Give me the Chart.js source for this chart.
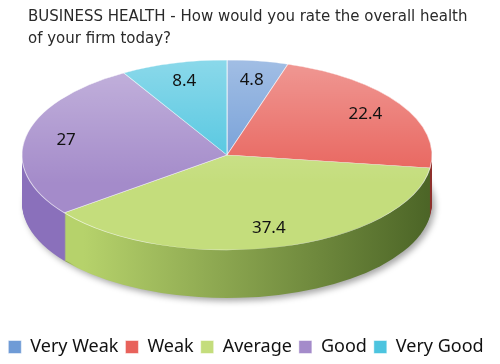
<!DOCTYPE html>
<html>
<head>
<meta charset="utf-8">
<script src="https://cdn.jsdelivr.net/npm/chart.js@4.4.1/dist/chart.umd.min.js"></script>
<style>
  html, body { margin: 0; padding: 0; background: #fff; }
</style>
</head>
<body>
<canvas id="c" width="500" height="364"></canvas>
<script>
// ── data ─────────────────────────────────────────
const categories = ['Very Weak', 'Weak', 'Average', 'Good', 'Very Good'];
const shares = [4.8, 22.4, 37.4, 27, 8.4];
const titleLines = ['BUSINESS HEALTH - How would you rate the overall health', 'of your firm today?'];

// ── look ─────────────────────────────────────────
const topColors = ['#6f9bd6', '#e8625b', '#c4dd7c', '#a48bca', '#4cc4df'];
const sideLeft  = ['#5d86c0', '#cf514a', '#b6d26b', '#8a70bb', '#3aaccb'];
const sideRight = ['#3d5e8e', '#8e302c', '#4b6426', '#6c549e', '#2a7f97'];
const ELL = { cx: 227, cy: 155, rx: 205, ry: 95, depth: 48 };
const LABEL_POS = 0.8;

const pie3d = {
  id: 'pie3d',
  afterLayout(chart) {
    chart.titleBlock.left = 28;
  },
  beforeDatasetsDraw(chart) {
    const ctx = chart.ctx;
    const arcs = chart.getDatasetMeta(0).data;
    const a0 = arcs[0];
    const R = a0.outerRadius;
    const sx = ELL.rx / R, sy = ELL.ry / R;
    const grads = arcs.map((arc, i) => {
      const g = ctx.createLinearGradient(a0.x - R, 0, a0.x + R, 0);
      g.addColorStop(0, sideLeft[i]);
      g.addColorStop(0.15, sideLeft[i]);
      g.addColorStop(1, sideRight[i]);
      return g;
    });
    // side walls, bottom layer first
    for (let d = ELL.depth; d >= 1; d--) {
      ctx.save();
      if (d === ELL.depth) {
        ctx.shadowColor = 'rgba(0,0,0,0.35)';
        ctx.shadowBlur = 6;
        ctx.shadowOffsetX = 3;
        ctx.shadowOffsetY = 3;
      }
      ctx.translate(ELL.cx, ELL.cy + d);
      ctx.scale(sx, sy);
      ctx.translate(-a0.x, -a0.y);
      arcs.forEach((arc, i) => {
        ctx.fillStyle = grads[i];
        ctx.beginPath();
        ctx.moveTo(arc.x, arc.y);
        ctx.arc(arc.x, arc.y, R, arc.startAngle, arc.endAngle);
        ctx.closePath();
        ctx.fill();
      });
      ctx.restore();
    }
    // top face goes through the same squash
    ctx.save();
    ctx.translate(ELL.cx, ELL.cy);
    ctx.scale(sx, sy);
    ctx.translate(-a0.x, -a0.y);
  },
  afterDatasetsDraw(chart) {
    const ctx = chart.ctx;
    const arcs = chart.getDatasetMeta(0).data;
    const a0 = arcs[0];
    const R = a0.outerRadius;
    // soft light on the back of the top face
    const g = ctx.createLinearGradient(0, a0.y - R, 0, a0.y + R * 0.3);
    g.addColorStop(0, 'rgba(255,255,255,0.35)');
    g.addColorStop(1, 'rgba(255,255,255,0)');
    ctx.fillStyle = g;
    ctx.beginPath();
    ctx.arc(a0.x, a0.y, R, 0, Math.PI * 2);
    ctx.fill();
    ctx.restore();

    // value labels
    ctx.save();
    ctx.font = '17px "Noto Sans"';
    ctx.fillStyle = '#111';
    ctx.textAlign = 'center';
    ctx.textBaseline = 'middle';
    arcs.forEach((arc, i) => {
      const mid = (arc.startAngle + arc.endAngle) / 2;
      const x = ELL.cx + ELL.rx * LABEL_POS * Math.cos(mid);
      const y = ELL.cy + ELL.ry * LABEL_POS * Math.sin(mid);
      ctx.fillText(String(shares[i]), x, y);
    });
    ctx.restore();
  }
};

new Chart(document.getElementById('c'), {
  type: 'pie',
  data: {
    labels: categories,
    datasets: [{
      data: shares,
      backgroundColor: topColors,
      borderColor: 'rgba(255,255,255,0.7)',
      borderWidth: 0.7,
      clip: false
    }]
  },
  options: {
    responsive: false,
    animation: false,
    devicePixelRatio: 1,
    layout: { padding: { top: 0, bottom: -2, left: 0, right: 8 } },
    plugins: {
      title: {
        display: true,
        text: titleLines,
        align: 'start',
        color: '#2a2a2a',
        font: { family: 'DejaVu Sans', size: 15, weight: 'normal', lineHeight: 1.45 },
        padding: { top: 6, bottom: 0 }
      },
      legend: {
        position: 'bottom',
        labels: {
          boxWidth: 13,
          boxHeight: 13,
          padding: 7,
          color: '#111',
          font: { family: 'Noto Sans', size: 18, lineHeight: 1 }
        }
      },
      tooltip: { enabled: false }
    }
  },
  plugins: [pie3d]
});
</script>
</body>
</html>
